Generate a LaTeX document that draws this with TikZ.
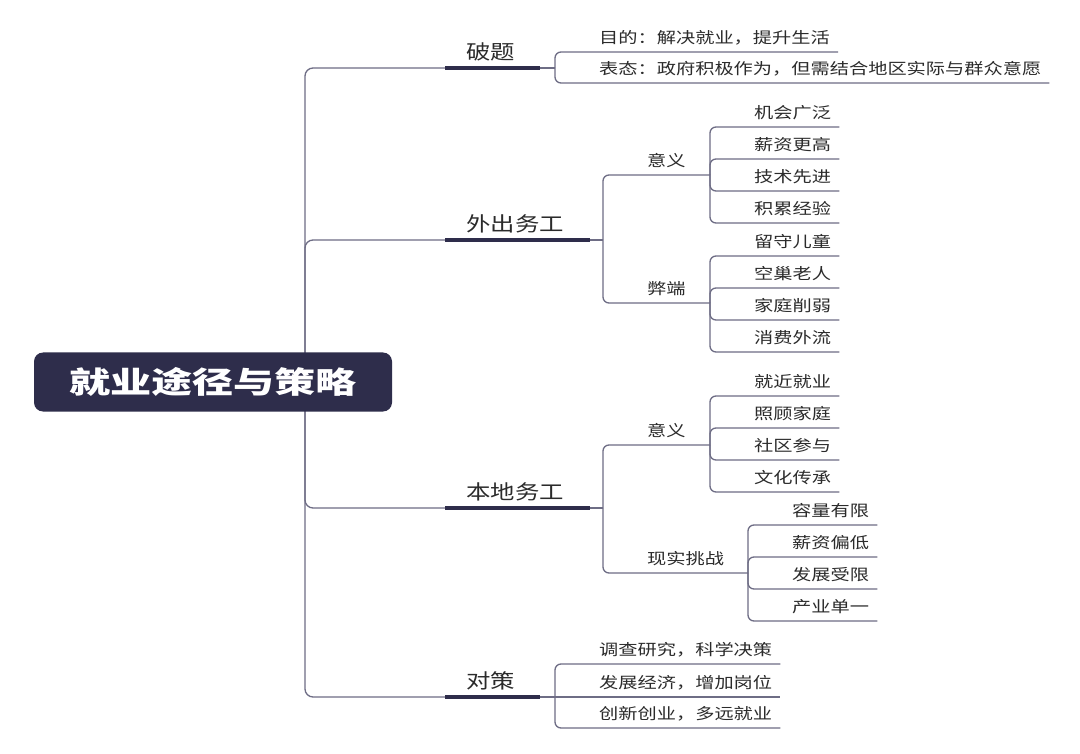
\documentclass[tikz,border=0pt]{standalone}
\usepackage{fontspec}
\setmainfont{Noto Sans CJK SC}
\usepackage{graphicx}
\definecolor{linec}{HTML}{6E6D85}
\definecolor{darkc}{HTML}{2E2D4B}
\definecolor{txtc}{HTML}{2B2B2B}
\tikzset{
  conn/.style={draw=linec, line width=1.3pt, rounded corners=6pt},
  thickl/.style={draw=darkc, line width=4pt},
  leaf/.style={anchor=south west, inner sep=0pt, text=txtc, font=\fontsize{15.5}{16}\selectfont},
  lone/.style={anchor=south west, inner sep=0pt, text=txtc, font=\fontsize{20}{22}\selectfont},
  rootbox/.style={fill=darkc, rounded corners=9pt, minimum width=358pt, minimum height=59pt, text=white, font=\fontsize{30}{32}\selectfont\bfseries}
}
% level-1 branch: name, y, text, thick end x, bracket x
\newcommand\mmbranch[5]{%
  \node[lone] (#1) at (466,#2-7) {\scalebox{1.22}[1]{#3}};
  \coordinate (#1-s) at (445,#2);
  \coordinate (#1-e) at (#4,#2);
  \coordinate (#1-j) at (#5,#2);
  \draw[conn, rounded corners=8pt] (sp) |- (#1-s);
  \draw[thickl] (#1-s) -- (#1-e);
  \draw[conn] (#1-e) -- (#1-j);
}
% child with sub-children: name, parent junction, bracket x, y, text, next bracket x
\newcommand\mmmid[6]{%
  \coordinate (#1-c) at (#3,#4);
  \node[leaf] (#1) at (#3+44,#4-7) {\scalebox{1.24}[1]{#5}};
  \coordinate (#1-j) at (#6,#4);
  \draw[conn] (#2) -- (#1-c) -- (#1-j);
}
% leaf: name, parent junction, bracket x, y, text
\newcommand\mmleaf[5]{%
  \coordinate (#1-c) at (#3,#4);
  \node[leaf] (#1) at (#3+44,#4-7) {\scalebox{1.24}[1]{#5}};
  \draw[conn] (#2) -- (#1-c) -- ([xshift=8pt]#1.east |- #1-c);
}
% leaf on the parent's own level
\newcommand\mmleafS[5]{%
  \coordinate (#1-c) at (#3,#4);
  \node[leaf] (#1) at (#3+44,#4-7) {\scalebox{1.24}[1]{#5}};
  \draw[conn] (#2) -- ([xshift=8pt]#1.east |- #1-c);
}
\begin{document}
\begin{tikzpicture}[x=1pt,y=-1pt]
\fill[white] (0,0) rectangle (1080,754);
\useasboundingbox (0,0) rectangle (1080,754);
\coordinate (sp) at (305,382);

% level 1
\mmbranch{a}{68}{破题}{540}{555}
\mmbranch{b}{240}{外出务工}{590}{603}
\mmbranch{c}{508}{本地务工}{590}{603}
\mmbranch{d}{697}{对策}{540}{555}

% 破题
\mmleaf{a1}{a-j}{555}{52}{目的：解决就业，提升生活}
\mmleaf{a2}{a-j}{555}{83}{表态：政府积极作为，但需结合地区实际与群众意愿}

% 外出务工
\mmmid{b1}{b-j}{603}{175}{意义}{710}
\mmmid{b2}{b-j}{603}{303}{弊端}{710}
\mmleaf{b11}{b1-j}{710}{127}{机会广泛}
\mmleaf{b12}{b1-j}{710}{159}{薪资更高}
\mmleaf{b13}{b1-j}{710}{191}{技术先进}
\mmleaf{b14}{b1-j}{710}{223}{积累经验}
\mmleaf{b21}{b2-j}{710}{256}{留守儿童}
\mmleaf{b22}{b2-j}{710}{288}{空巢老人}
\mmleaf{b23}{b2-j}{710}{320}{家庭削弱}
\mmleaf{b24}{b2-j}{710}{352}{消费外流}

% 本地务工
\mmmid{c1}{c-j}{603}{445}{意义}{710}
\mmmid{c2}{c-j}{603}{573}{现实挑战}{748}
\mmleaf{c11}{c1-j}{710}{396}{就近就业}
\mmleaf{c12}{c1-j}{710}{428}{照顾家庭}
\mmleaf{c13}{c1-j}{710}{460}{社区参与}
\mmleaf{c14}{c1-j}{710}{492}{文化传承}
\mmleaf{c21}{c2-j}{748}{525}{容量有限}
\mmleaf{c22}{c2-j}{748}{557}{薪资偏低}
\mmleaf{c23}{c2-j}{748}{589}{发展受限}
\mmleaf{c24}{c2-j}{748}{621}{产业单一}

% 对策
\mmleaf{d1}{d-j}{555}{664}{调查研究，科学决策}
\mmleafS{d2}{d-j}{555}{697}{发展经济，增加岗位}
\mmleaf{d3}{d-j}{555}{728}{创新创业，多远就业}

% root
\node[rootbox] (root) at (213,382) {\scalebox{1.37}[1]{就业途径与策略}};
\end{tikzpicture}
\end{document}
